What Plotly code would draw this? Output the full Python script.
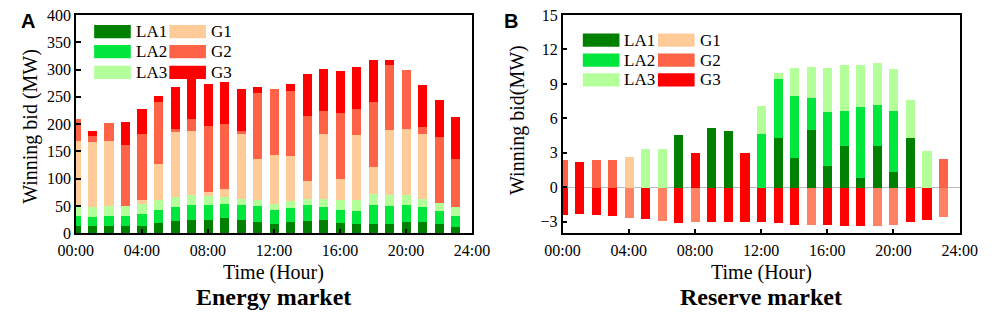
import plotly.graph_objects as go

W, H = 996, 319

hours = list(range(24))
tick_vals = [0, 4, 8, 12, 16, 20, 24]
tick_text = ["00:00", "04:00", "08:00", "12:00", "16:00", "20:00", "24:00"]
names = ["LA1", "LA2", "LA3", "G1", "G2", "G3"]

# ---------------- Energy market (MW) ----------------
e_LA1 = [15, 15, 15, 15, 15, 19, 23, 25, 26, 28, 26, 22, 18, 21, 24, 25, 20, 18, 17, 17, 22, 21, 18, 12]
e_LA2 = [17, 15, 17, 17, 21, 24, 26, 27, 27, 27, 27, 28, 25, 26, 28, 23, 23, 24, 35, 33, 30, 27, 23, 20]
e_LA3 = [18, 18, 18, 18, 18, 18, 18, 18, 16, 12, 11, 12, 11, 12, 12, 15, 18, 19, 20, 20, 19, 16, 16, 16]
e_G1 = [120, 120, 120, 0, 8, 67, 120, 119, 8, 14, 119, 75, 90, 83, 32, 119, 40, 120, 50, 120, 121, 118, 0, 0]
e_G2 = [40, 11, 32, 112, 120, 114, 4, 21, 120, 120, 6, 120, 121, 120, 120, 42, 120, 48, 120, 119, 107, 14, 120, 89]
e_G3 = [0, 10, 0, 43, 47, 11, 77, 78, 77, 76, 76, 12, 0, 12, 77, 77, 77, 77, 76, 10, 0, 76, 68, 76]

# ---------------- Reserve market (MW) ----------------
r_LA1 = [0, 0, 0, 0, 0, 0, 0, 4.62, 0, 5.19, 4.92, 0, 0, 4.37, 2.57, 5.05, 1.89, 3.63, 0.85, 3.66, 1.34, 4.37, 0, 0]
r_LA2 = [0, 0, 0, 0, 0, 0, 0, 0, 0, 0, 0, 0, 4.70, 5.06, 5.41, 2.76, 4.69, 3.06, 6.17, 3.55, 5.35, 0, 0, 0]
r_LA3 = [0, 0, 0, 0, 0, 3.33, 3.36, 0, 0, 0, 0, 0, 2.43, 0.57, 2.46, 2.71, 3.80, 3.97, 3.66, 3.64, 3.61, 3.25, 3.20, 0]
r_G1 = [0, 0, 0, 0, 2.65, 0, 0, 0, 0, 0, 0, 0, 0, 0, 0, 0, 0, 0, 0, 0, 0, 0, 0, 0]
r_G2 = [2.38, 0, 2.38, 2.40, 0, 0, 0, 0, 0, 0, 0, 0, 0, 0, 0, 0, 0, 0, 0, 0, 0, 0, 0, 2.51]
r_G3 = [0, 2.27, 0, 0, 0, 0, 0, 0, 2.98, 0, 0, 3.03, 0, 0, 0, 0, 0, 0, 0, 0, 0, 0, 0, 0]
# downward reserve
r_G3_down = [-2.38, -2.27, -2.38, -2.43, 0, -2.76, 0, -3.06, 0, -3.0, -2.95, -3.0, -3.0, -3.06, -3.2, 0, -3.22, -3.31, -3.31, 0, 0, -2.98, -2.79, 0]
r_G2_down = [0, 0, 0, 0, -2.6, 0, -2.87, 0, -2.95, 0, 0, 0, 0, 0, 0, -3.25, 0, 0, 0, -3.36, -3.2, 0, 0, -2.51]

colors = {"LA1": "#008000", "LA2": "#00E63C", "LA3": "#B3FF99",
          "G1": "#FFCC99", "G2": "#FF6347", "G3": "#FF0000"}
down_g2_color = "#FF8264"

FONT = "Liberation Serif, Times New Roman, serif"
BW = 0.55

fig = go.Figure()

energy = [e_LA1, e_LA2, e_LA3, e_G1, e_G2, e_G3]
for n, vals in zip(names, energy):
    fig.add_trace(go.Bar(x=hours, y=vals, name=n, marker_color=colors[n],
                         marker_line_width=0, width=BW, showlegend=False,
                         xaxis="x", yaxis="y"))

reserve = [r_LA1, r_LA2, r_LA3, r_G1, r_G2, r_G3]
for n, vals in zip(names, reserve):
    fig.add_trace(go.Bar(x=hours, y=vals, name=n, marker_color=colors[n],
                         marker_line_width=0, width=BW, showlegend=False,
                         xaxis="x2", yaxis="y2"))
fig.add_trace(go.Bar(x=hours, y=r_G3_down, name="G3", marker_color=colors["G3"],
                     marker_line_width=0, width=BW, showlegend=False,
                     xaxis="x2", yaxis="y2"))
fig.add_trace(go.Bar(x=hours, y=r_G2_down, name="G2", marker_color=down_g2_color,
                     marker_line_width=0, width=BW, showlegend=False,
                     xaxis="x2", yaxis="y2"))


def px(x):
    return x / W


def py(y):
    return 1 - y / H


axA = dict(x0=60, x1=471, y0=7, y1=238)
axB = dict(x0=565, x1=977, y0=7, y1=238)

common_x = dict(range=[0, 24], tickvals=tick_vals, ticktext=tick_text,
                ticks="inside", ticklen=5, tickwidth=1.5, tickcolor="black",
                showline=True, linecolor="black", linewidth=1.5, mirror=True,
                showgrid=False, zeroline=False, ticklabeloverflow="allow",
                ticklabelstandoff=2,
                tickfont=dict(family=FONT, size=16, color="black"))
common_y = dict(ticks="inside", ticklen=5, tickwidth=1.5, tickcolor="black",
                showline=True, linecolor="black", linewidth=1.5, mirror=True,
                showgrid=False, ticklabeloverflow="allow",
                tickfont=dict(family=FONT, size=16, color="black"))

fig.update_layout(
    width=W, height=H, margin=dict(l=0, r=0, t=0, b=0),
    paper_bgcolor="white", plot_bgcolor="white",
    barmode="relative", bargap=0,
    showlegend=False,
    xaxis=dict(domain=[px(axA["x0"]), px(axA["x1"])], anchor="y", **common_x),
    yaxis=dict(domain=[py(axA["y1"]), py(axA["y0"])], anchor="x",
               range=[0, 400.6], tickvals=list(range(0, 401, 50)), zeroline=False,
               **common_y),
    xaxis2=dict(domain=[px(axB["x0"]), px(axB["x1"])], anchor="y2", **common_x),
    yaxis2=dict(domain=[py(axB["y1"]), py(axB["y0"])], anchor="x2",
                range=[-4, 15.03], tickvals=list(range(-3, 16, 3)),
                zeroline=True, zerolinecolor="#BBBBBB", zerolinewidth=1,
                **common_y),
)

shapes = []
annots = []


def add_legend(x_col1, x_col2, ys, sw_w=38, sw_h=14):
    cols = [(x_col1, ["LA1", "LA2", "LA3"]), (x_col2, ["G1", "G2", "G3"])]
    for xc, items in cols:
        for yc, n in zip(ys, items):
            shapes.append(dict(type="rect", xref="paper", yref="paper",
                               x0=px(xc), x1=px(xc + sw_w), y0=py(yc + sw_h / 2), y1=py(yc - sw_h / 2),
                               fillcolor=colors[n], line=dict(width=0), layer="above"))
            annots.append(dict(x=px(xc + sw_w + 3), y=py(yc), xref="paper", yref="paper",
                               text=n, showarrow=False, xanchor="left", yanchor="middle",
                               font=dict(family=FONT, size=17, color="black")))


add_legend(79, 157, [25, 46, 68])
add_legend(586, 664, [34, 55, 76])


def add_text(x, y, text, size, bold=False, angle=0, family=FONT):
    annots.append(dict(x=px(x), y=py(y), xref="paper", yref="paper",
                       text=f"<b>{text}</b>" if bold else text, showarrow=False,
                       xanchor="center", yanchor="middle", textangle=angle,
                       font=dict(family=family, size=size, color="black")))


add_text(13, 125, "Winning bid (MW)", 20, angle=-90)
add_text(265, 279, "Time (Hour)", 20)
add_text(265, 305, "Energy market", 24, bold=True)
add_text(518, 118, "Winning bid(MW)", 20, angle=-90)
add_text(771, 279, "Time (Hour)", 20)
add_text(771, 305, "Reserve market", 24, bold=True)
add_text(10, 14, "A", 20, bold=True, family="Liberation Sans, Arial, sans-serif")
add_text(512, 14, "B", 20, bold=True, family="Liberation Sans, Arial, sans-serif")

fig.update_layout(shapes=shapes, annotations=annots)
fig.write_html("out.html", config={"displayModeBar": False},
               post_script="document.body.style.margin='0';document.body.style.overflow='hidden';")
